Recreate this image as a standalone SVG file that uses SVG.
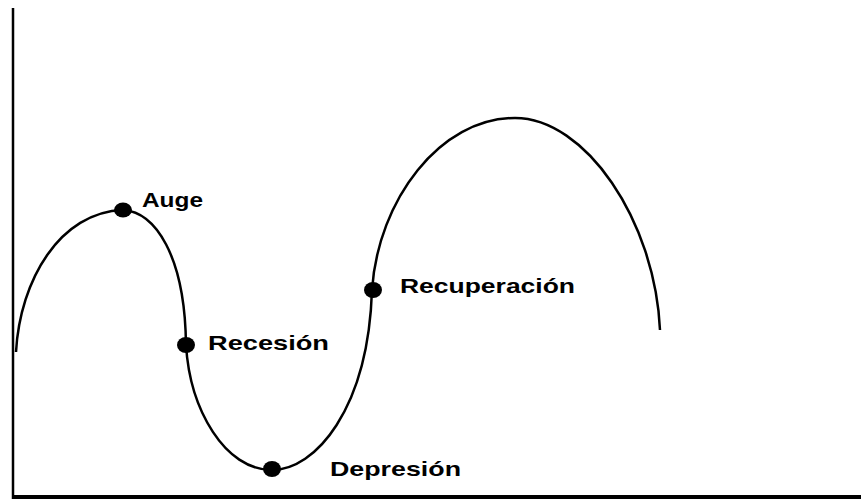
<svg xmlns="http://www.w3.org/2000/svg" width="861" height="503" viewBox="0 0 861 503">
<style>
.ax{stroke:#000;fill:none}
.curve{stroke:#000;stroke-width:2.5;fill:none}
.dot{fill:#000}
.lbl{font-family:"Liberation Sans",Arial,sans-serif;font-weight:bold;font-size:21px;fill:#000}
</style>
<rect width="861" height="503" fill="#fff"/>
<g id="axes">
<line class="ax" x1="13" y1="8" x2="13" y2="499" stroke-width="2.5"/>
<line class="ax" x1="12" y1="497" x2="861" y2="497" stroke-width="4"/>
</g>
<g id="connectors">
<path class="curve" d="M16,352 C20,280 60,212 123,210 C155,212 185,255 186,345 C190,410 225,470 272,470 C315,470 368,410 372,290 C378,200 440,118 515,118 C585,118 655,220 660,330"/>
</g>
<g id="auge">
<ellipse class="dot" cx="123" cy="210" rx="9" ry="7.5"/>
<text class="lbl" x="142" y="207" textLength="61" lengthAdjust="spacingAndGlyphs">Auge</text>
</g>
<g id="recesion">
<ellipse class="dot" cx="186" cy="345" rx="9" ry="8"/>
<text class="lbl" x="208" y="350" textLength="121" lengthAdjust="spacingAndGlyphs">Recesión</text>
</g>
<g id="depresion">
<ellipse class="dot" cx="272" cy="469" rx="9" ry="8"/>
<text class="lbl" x="330" y="476" textLength="131" lengthAdjust="spacingAndGlyphs">Depresión</text>
</g>
<g id="recuperacion">
<ellipse class="dot" cx="373" cy="290" rx="9" ry="8"/>
<text class="lbl" x="400" y="293" textLength="175" lengthAdjust="spacingAndGlyphs">Recuperación</text>
</g>
</svg>
